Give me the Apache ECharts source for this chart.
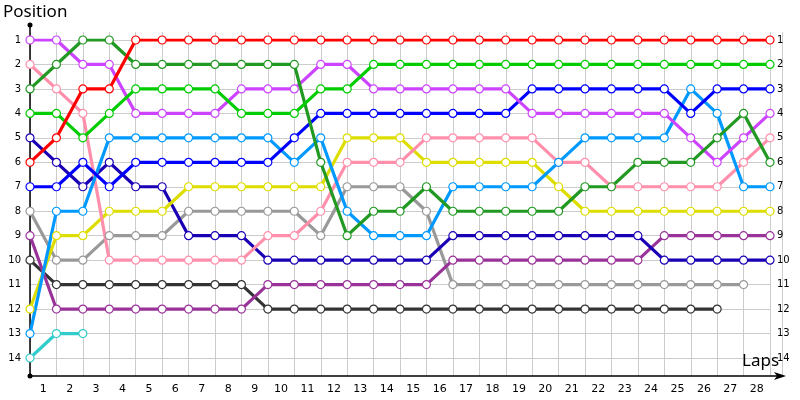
<!DOCTYPE html>
<html style="height: 100%">
<head>
    <meta charset="utf-8">
    <script src="https://cdn.jsdelivr.net/npm/echarts@6/dist/echarts.min.js"></script>
</head>
<body style="height: 100%; margin: 0">
<div id="container" style="width: 800px; height: 400px"></div>
<script type="text/javascript">
    // lap numbers shown on the x axis
    var lapLabels = [];
    for (var i = 1; i <= 28; i++) lapLabels.push(String(i));
    var posLabels = [1, 2, 3, 4, 5, 6, 7, 8, 9, 10, 11, 12, 13, 14];

    // position of each car at laps 0..28 (null = no longer running)
    var red       = [6,5,3,3,1,1,1,1,1,1,1,1,1,1,1,1,1,1,1,1,1,1,1,1,1,1,1,1,1];
    var darkGreen = [3,2,1,1,2,2,2,2,2,2,2,6,9,8,8,7,8,8,8,8,8,7,7,6,6,6,5,4,6];
    var green     = [4,4,5,4,3,3,3,3,4,4,4,3,3,2,2,2,2,2,2,2,2,2,2,2,2,2,2,2,2];
    var violet    = [1,1,2,2,4,4,4,4,3,3,3,2,2,3,3,3,3,3,3,4,4,4,4,4,4,5,6,5,4];
    var pink      = [2,3,4,10,10,10,10,10,10,9,9,8,6,6,6,5,5,5,5,5,6,6,7,7,7,7,7,6,5];
    var blue      = [7,7,6,7,6,6,6,6,6,6,5,4,4,4,4,4,4,4,4,3,3,3,3,3,3,4,3,3,3];
    var darkBlue  = [5,6,7,6,7,7,9,9,9,10,10,10,10,10,10,10,9,9,9,9,9,9,9,9,10,10,10,10,10];
    var lightBlue = [13,8,8,5,5,5,5,5,5,5,6,5,8,9,9,9,7,7,7,7,6,5,5,5,5,3,4,7,7];
    var yellow    = [12,9,9,8,8,8,7,7,7,7,7,7,5,5,5,6,6,6,6,6,7,8,8,8,8,8,8,8,8];
    var gray      = [8,10,10,9,9,9,8,8,8,8,8,9,7,7,7,8,11,11,11,11,11,11,11,11,11,11,11,11,null];
    var magenta   = [9,12,12,12,12,12,12,12,12,11,11,11,11,11,11,11,10,10,10,10,10,10,10,10,9,9,9,9,9];
    var black     = [10,11,11,11,11,11,11,11,11,12,12,12,12,12,12,12,12,12,12,12,12,12,12,12,12,12,12,null,null];
    var cyan      = [14,13,13];

    var cars = [
        {name: 'gray', data: gray, color: '#999999'},
        {name: 'black', data: black, color: '#333333'},
        {name: 'magenta', data: magenta, color: '#993399'},
        {name: 'cyan', data: cyan, color: '#33cccc'},
        {name: 'darkBlue', data: darkBlue, color: '#1a00b4'},
        {name: 'yellow', data: yellow, color: '#dddd00'},
        {name: 'pink', data: pink, color: '#ff8fab'},
        {name: 'lightBlue', data: lightBlue, color: '#0099ff'},
        {name: 'blue', data: blue, color: '#0000ff'},
        {name: 'violet', data: violet, color: '#cc44ff'},
        {name: 'darkGreen', data: darkGreen, color: '#229922'},
        {name: 'green', data: green, color: '#00cc00'},
        {name: 'red', data: red, color: '#ff0000'}
    ];

    var series = cars.map(function (c) {
        var pts = [];
        c.data.forEach(function (p, lap) {
            if (p !== null) pts.push([lap, p]);
        });
        return {
            name: c.name,
            type: 'line',
            xAxisIndex: 0,
            yAxisIndex: 0,
            data: pts,
            symbol: 'circle',
            symbolSize: 8,
            showAllSymbol: true,
            lineStyle: {color: c.color, width: 3.2},
            itemStyle: {color: '#ffffff', borderColor: c.color, borderWidth: 1.2},
            emphasis: {disabled: true}
        };
    });

    var labelFont = 'DejaVu Sans';
    var dom = document.getElementById("container");
    var myChart = echarts.init(dom);

    var option = {
        animation: false,
        title: [
            {text: 'Position', left: 3, top: 4, padding: 0,
             textStyle: {fontSize: 17, fontWeight: 'normal', fontFamily: 'Noto Sans', color: '#000'}},
            {text: 'Laps', left: 742, top: 353, padding: 0,
             textStyle: {fontSize: 17, fontWeight: 'normal', fontFamily: 'Noto Sans', color: '#000'}}
        ],
        grid: [
            {left: 30, right: 30, top: 40, bottom: 42},
            {left: 30, right: 18, top: 32, bottom: 24},
            {left: 30, right: 18, top: 25, bottom: 24}
        ],
        xAxis: [
            {gridIndex: 0, type: 'value', min: 0, max: 28, show: false},
            {gridIndex: 0, type: 'category', data: lapLabels, boundaryGap: true, position: 'bottom', offset: 18,
             axisLine: {show: false}, axisTick: {show: false}, splitLine: {show: false},
             axisLabel: {fontSize: 11, fontFamily: labelFont, color: '#000', margin: 8, interval: 0}},
            {gridIndex: 1, type: 'value', min: 0, max: 28.45, interval: 1,
             axisLine: {show: true, lineStyle: {color: '#000', width: 1.5}, symbol: ['none', 'arrow'], symbolSize: [6, 12], symbolOffset: [0, 4]},
             axisTick: {show: false}, axisLabel: {show: false},
             splitLine: {show: true, lineStyle: {color: '#cccccc', width: 1}}},
            {gridIndex: 2, type: 'value', min: 0, max: 1, show: false}
        ],
        yAxis: [
            {gridIndex: 0, type: 'value', inverse: true, min: 1, max: 14, interval: 1, position: 'left',
             axisLine: {show: false}, axisTick: {show: false},
             axisLabel: {fontSize: 10, fontFamily: labelFont, color: '#000', margin: 9},
             splitLine: {show: true, lineStyle: {color: '#cccccc', width: 1}}},
            {gridIndex: 0, type: 'value', inverse: true, min: 1, max: 14, interval: 1, position: 'right',
             axisLine: {show: false}, axisTick: {show: false},
             axisLabel: {fontSize: 10, fontFamily: labelFont, color: '#000', margin: 7},
             splitLine: {show: false}},
            {gridIndex: 1, type: 'value', min: 0, max: 1, show: false},
            {gridIndex: 2, type: 'value', min: 0, max: 1, position: 'left',
             axisLine: {show: true, lineStyle: {color: '#000', width: 1.5}, symbol: ['circle', 'circle'], symbolSize: [5, 5]},
             axisTick: {show: false}, axisLabel: {show: false}, splitLine: {show: false}}
        ],
        series: series
    };

    if (option && typeof option === "object") {
        myChart.setOption(option, true);
    }
</script>
</body>
</html>
